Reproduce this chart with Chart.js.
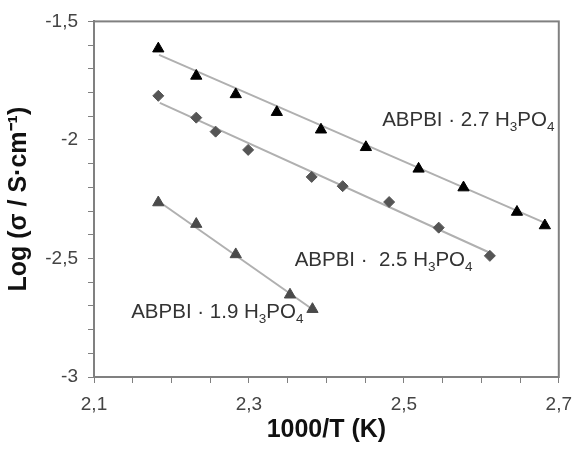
<!DOCTYPE html>
<html>
<head>
<meta charset="utf-8">
<script src="https://cdn.jsdelivr.net/npm/chart.js@4"></script>
<style>
  body { margin: 0; background: #fff; }
  canvas { display: block; }
</style>
</head>
<body>
<canvas id="chart" width="582" height="449"></canvas>
<script>
// measured points, 1000/T vs log(sigma)
const x27 = [2.183, 2.232, 2.283, 2.336, 2.393, 2.451, 2.519, 2.577, 2.646, 2.682];
const y27 = [-1.615, -1.730, -1.808, -1.883, -1.957, -2.031, -2.122, -2.201, -2.304, -2.361];
const x25 = [2.183, 2.232, 2.257, 2.299, 2.381, 2.421, 2.481, 2.545, 2.611];
const y25 = [-1.814, -1.906, -1.965, -2.042, -2.156, -2.195, -2.262, -2.370, -2.489];
const x19 = [2.183, 2.232, 2.283, 2.353, 2.382];
const y19 = [-2.264, -2.355, -2.483, -2.653, -2.714];

// fitted lines (end points)
const fit27x = [2.184, 2.682], fit27y = [-1.641, -2.350];
const fit25x = [2.185, 2.611], fit25y = [-1.8435, -2.476];
const fit19x = [2.186, 2.381], fit19y = [-2.265, -2.712];

const xLabels = [2.1, 2.3, 2.5, 2.7];
const yLabels = [-3, -2.5, -2, -1.5];

const pts = (xs, ys) => xs.map((x, i) => ({ x: x, y: ys[i] }));
const fmt = v => String(v).replace('.', ',');
const font = '"Liberation Sans", Arial, sans-serif';
const axisGrey = '#808080';

// series labels with subscripts
const notes = [
  { x: 2.472, y: -1.94, parts: [['ABPBI \u00b7 2.7 H'], ['3', 1], ['PO'], ['4', 1]] },
  { x: 2.359, y: -2.531, parts: [['ABPBI \u00b7  2.5 H'], ['3', 1], ['PO'], ['4', 1]] },
  { x: 2.148, y: -2.7526, parts: [['ABPBI \u00b7 1.9 H'], ['3', 1], ['PO'], ['4', 1]] }
];

const decorations = {
  id: 'decorations',
  afterDatasetsDraw(chart) {
    const { ctx, chartArea: a, scales } = chart;
    ctx.save();
    ctx.strokeStyle = axisGrey;
    ctx.lineWidth = 2;
    ctx.strokeRect(a.left, a.top, a.right - a.left, a.bottom - a.top);
    ctx.fillStyle = '#333';
    ctx.textBaseline = 'alphabetic';
    notes.forEach(n => {
      let px = scales.x.getPixelForValue(n.x);
      const py = scales.y.getPixelForValue(n.y);
      n.parts.forEach(p => {
        ctx.font = (p[1] ? '13.5px ' : '20.5px ') + font;
        ctx.fillText(p[0], px, p[1] ? py + 5 : py);
        px += ctx.measureText(p[0]).width;
      });
    });
    ctx.restore();
  }
};

new Chart(document.getElementById('chart'), {
  type: 'scatter',
  data: {
    datasets: [
      { data: pts(x27, y27), pointStyle: 'triangle', pointRadius: 6.5, backgroundColor: '#000', borderColor: '#000', borderWidth: 1, order: 1 },
      { data: pts(x25, y25), pointStyle: 'rectRot', pointRadius: 5.5, backgroundColor: '#555', borderColor: '#555', borderWidth: 1, order: 1 },
      { data: pts(x19, y19), pointStyle: 'triangle', pointRadius: 6.5, backgroundColor: '#4a4a4a', borderColor: '#4a4a4a', borderWidth: 1, order: 1 },
      { data: pts(fit27x, fit27y), showLine: true, pointRadius: 0, borderColor: '#b0b0b0', borderWidth: 2, order: 2 },
      { data: pts(fit25x, fit25y), showLine: true, pointRadius: 0, borderColor: '#b0b0b0', borderWidth: 2, order: 2 },
      { data: pts(fit19x, fit19y), showLine: true, pointRadius: 0, borderColor: '#b0b0b0', borderWidth: 2, order: 2 }
    ]
  },
  options: {
    responsive: false,
    animation: false,
    layout: { padding: { left: 0, right: 16, top: 19, bottom: 0 } },
    plugins: { legend: { display: false }, tooltip: { enabled: false } },
    scales: {
      x: {
        type: 'linear',
        min: 2.1,
        max: 2.7,
        afterFit: s => { s.height = 72; },
        border: { color: axisGrey, width: 2 },
        grid: { drawOnChartArea: false, tickLength: 6, color: axisGrey },
        ticks: {
          stepSize: 0.05,
          autoSkip: false,
          maxRotation: 0,
          padding: 10,
          color: '#444',
          font: { family: font, size: 19 },
          callback: v => xLabels.some(l => Math.abs(l - v) < 1e-6) ? fmt(Math.round(v * 10) / 10) : ''
        },
        title: {
          display: true,
          text: '1000/T (K)',
          color: '#111',
          padding: { top: 0, bottom: 4 },
          font: { family: font, size: 25, weight: 'bold' }
        }
      },
      y: {
        min: -3,
        max: -1.5,
        afterFit: s => { s.width = 94; },
        border: { color: axisGrey, width: 2 },
        grid: { drawOnChartArea: false, tickLength: 6, color: axisGrey },
        ticks: {
          stepSize: 0.1,
          autoSkip: false,
          padding: 10,
          color: '#444',
          font: { family: font, size: 19 },
          callback: v => yLabels.some(l => Math.abs(l - v) < 1e-6) ? fmt(Math.round(v * 10) / 10) : ''
        },
        title: {
          display: true,
          text: 'Log (\u03c3 / S\u00b7cm\u207b\u00b9)',
          color: '#111',
          padding: { top: 4, bottom: 0 },
          font: { family: font, size: 25, weight: 'bold' }
        }
      }
    }
  },
  plugins: [decorations]
});
</script>
</body>
</html>
